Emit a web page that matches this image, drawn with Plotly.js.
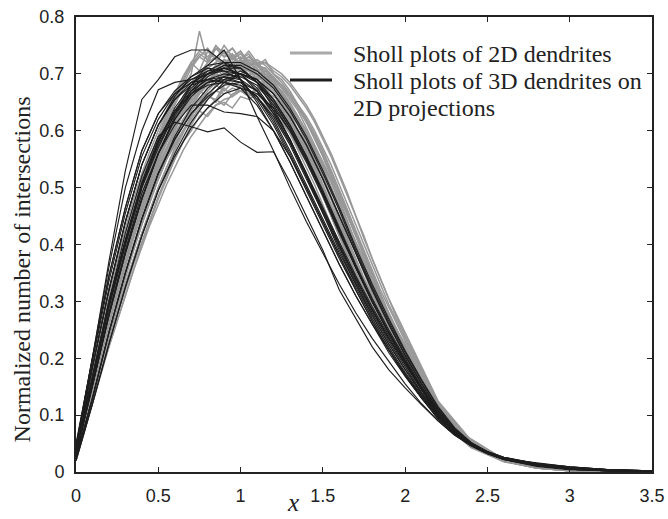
<!DOCTYPE html>
<html><head><meta charset="utf-8">
<script src="https://cdn.plot.ly/plotly-3.0.1.min.js"></script>
<style>html,body{margin:0;padding:0;background:#fff}#chart{width:668px;height:519px}</style>
</head><body><div id="chart"></div>
<script>
// x grids
const grayX = [0,0.05,0.1,0.15,0.2,0.25,0.3,0.35,0.4,0.45,0.5,0.55,0.6,0.65,0.7,0.75,0.8,0.85,0.9,0.95,1.0,1.05,1.1,1.15,1.2,1.25,1.3,1.35,1.4,1.45,1.5,1.55,1.6,1.65,1.7,1.75,1.8,1.85,1.9,1.95,2.0,2.2,2.4,2.6,2.8,3.0,3.25,3.5];
const blackX = [0,0.1,0.2,0.3,0.4,0.5,0.6,0.7,0.8,0.9,1.0,1.1,1.2,1.3,1.4,1.5,1.6,1.7,1.8,1.9,2.0,2.1,2.2,2.3,2.4,2.5,2.6,2.8,3.0,3.25,3.5];
const xTickVals = [0,0.5,1,1.5,2,2.5,3,3.5];
const xTickText = ['0','0.5','1','1.5','2','2.5','3','3.5'];
const yTickVals = [0,0.1,0.2,0.3,0.4,0.5,0.6,0.7,0.8];
const yTickText = ['0','0.1','0.2','0.3','0.4','0.5','0.6','0.7','0.8'];
const legendNames = ['Sholl plots of 2D dendrites', 'Sholl plots of 3D dendrites on', '2D projections'];

// Sholl plots of 2D dendrites (gray)
const gray1 = [.03,.10,.165,.23,.29,.345,.40,.45,.50,.54,.58,.615,.645,.675,.70,.775,.72,.73,.715,.735,.71,.705,.70,.68,.665,.64,.615,.59,.56,.53,.495,.46,.425,.39,.355,.325,.295,.27,.245,.22,.195,.10,.048,.02,.008,.003,.001,.0005];
const gray2 = [.025,.085,.15,.21,.27,.325,.375,.425,.47,.515,.555,.59,.625,.66,.685,.70,.72,.745,.73,.745,.725,.74,.72,.70,.69,.665,.64,.61,.58,.55,.515,.48,.44,.405,.37,.335,.305,.275,.25,.225,.20,.105,.05,.021,.008,.003,.001,.0005];
const gray3 = [.03,.08,.135,.19,.245,.295,.345,.395,.44,.485,.525,.555,.59,.615,.645,.665,.68,.70,.695,.71,.72,.705,.715,.70,.685,.67,.65,.625,.60,.57,.535,.50,.46,.42,.385,.35,.315,.285,.255,.23,.205,.11,.05,.02,.007,.002,.001,.0005];
const gray4 = [.035,.095,.16,.225,.285,.34,.39,.44,.485,.525,.56,.59,.615,.64,.635,.655,.665,.65,.675,.66,.68,.665,.67,.65,.64,.625,.60,.58,.55,.52,.49,.455,.42,.385,.35,.32,.29,.265,.24,.215,.19,.098,.046,.02,.008,.003,.001,.0005];
const gray5 = [.03,.095,.16,.225,.28,.335,.385,.435,.48,.52,.56,.585,.62,.64,.665,.69,.68,.705,.725,.70,.72,.695,.685,.675,.655,.64,.61,.59,.56,.525,.49,.455,.42,.385,.35,.32,.29,.265,.24,.215,.19,.10,.045,.019,.007,.003,.001,.0005];
const gray6 = [.04,.11,.18,.245,.31,.37,.42,.47,.515,.555,.59,.625,.655,.685,.72,.705,.74,.725,.715,.73,.705,.70,.685,.665,.645,.62,.595,.565,.535,.505,.47,.435,.40,.365,.335,.305,.28,.255,.23,.205,.185,.095,.044,.019,.007,.003,.001,.0005];
const gray7 = [.025,.075,.13,.185,.24,.29,.34,.39,.435,.475,.515,.55,.58,.61,.635,.655,.675,.69,.70,.705,.72,.73,.715,.725,.70,.69,.67,.645,.62,.59,.555,.52,.48,.44,.40,.365,.33,.295,.265,.235,.21,.11,.052,.022,.008,.003,.001,.0005];
const gray8 = [.03,.09,.155,.22,.275,.33,.385,.435,.475,.52,.555,.59,.62,.645,.665,.69,.70,.715,.70,.72,.705,.715,.695,.685,.665,.645,.62,.595,.565,.535,.50,.465,.43,.395,.36,.33,.30,.27,.245,.22,.195,.10,.047,.02,.008,.003,.001,.0005];
const gray9 = [.03,.085,.14,.195,.25,.30,.35,.395,.44,.48,.52,.55,.575,.60,.62,.64,.66,.655,.68,.69,.70,.695,.71,.69,.68,.665,.645,.62,.595,.565,.535,.50,.465,.43,.395,.36,.325,.295,.265,.24,.21,.105,.048,.02,.007,.003,.001,.0005];
const gray10 = [.035,.10,.17,.235,.295,.35,.405,.455,.50,.545,.585,.62,.65,.68,.71,.73,.72,.745,.74,.725,.74,.72,.71,.69,.67,.65,.625,.60,.57,.54,.505,.47,.435,.40,.365,.335,.305,.275,.25,.225,.20,.10,.046,.019,.007,.002,.001,.0005];
const gray11 = [.025,.09,.15,.215,.27,.325,.375,.425,.47,.51,.55,.58,.615,.645,.67,.675,.695,.71,.695,.715,.71,.70,.70,.68,.665,.64,.62,.59,.565,.53,.50,.46,.425,.39,.355,.325,.295,.265,.24,.215,.19,.10,.046,.02,.008,.003,.001,.0005];
const gray12 = [.03,.09,.15,.21,.265,.32,.37,.42,.465,.51,.545,.58,.61,.64,.665,.685,.70,.71,.725,.715,.725,.715,.72,.705,.695,.675,.655,.635,.605,.575,.545,.51,.475,.44,.40,.365,.33,.30,.27,.24,.215,.11,.05,.021,.008,.003,.001,.0005];
const gray13 = [.03,.095,.16,.225,.285,.34,.395,.445,.49,.53,.57,.60,.63,.655,.68,.695,.71,.72,.71,.705,.715,.695,.69,.67,.655,.63,.605,.58,.55,.52,.485,.45,.415,.38,.345,.315,.285,.26,.235,.21,.19,.098,.046,.02,.008,.003,.001,.0005];
const gray14 = [.035,.10,.165,.23,.29,.345,.395,.445,.49,.53,.565,.60,.63,.66,.68,.70,.695,.715,.705,.73,.715,.705,.69,.675,.655,.635,.61,.585,.555,.525,.49,.455,.42,.385,.35,.32,.29,.265,.24,.215,.19,.10,.058,.022,.008,.003,.001,.0005];
const gray15 = [.03,.09,.15,.21,.265,.32,.37,.415,.455,.495,.53,.565,.595,.62,.64,.655,.66,.67,.665,.675,.67,.665,.655,.645,.63,.615,.595,.57,.545,.515,.485,.45,.415,.38,.35,.32,.29,.26,.235,.21,.19,.10,.046,.02,.008,.003,.001,.0005];
const gray16 = [.025,.085,.145,.205,.26,.315,.365,.415,.46,.505,.545,.58,.61,.64,.665,.68,.69,.70,.715,.705,.725,.71,.70,.69,.675,.655,.635,.61,.58,.55,.52,.485,.45,.41,.375,.34,.31,.28,.25,.225,.20,.105,.049,.02,.008,.003,.001,.0005];
const gray17 = [.03,.09,.15,.21,.265,.32,.37,.42,.465,.505,.545,.58,.615,.645,.67,.695,.71,.72,.74,.725,.735,.72,.725,.715,.70,.685,.665,.645,.62,.595,.565,.53,.495,.46,.42,.385,.345,.31,.275,.245,.215,.11,.05,.02,.008,.003,.001,.0005];
const gray18 = [.025,.08,.14,.195,.25,.30,.35,.40,.445,.49,.53,.565,.60,.63,.655,.675,.69,.70,.715,.705,.72,.715,.70,.705,.69,.675,.66,.64,.615,.59,.56,.525,.49,.455,.42,.385,.35,.315,.28,.25,.22,.115,.052,.021,.008,.003,.001,.0005];
const gray19 = [.02,.07,.12,.17,.22,.265,.31,.355,.40,.44,.48,.515,.55,.58,.61,.635,.655,.67,.685,.695,.70,.71,.70,.705,.69,.68,.665,.645,.625,.60,.57,.54,.505,.47,.435,.40,.365,.33,.295,.265,.235,.12,.055,.022,.008,.003,.001,.0005];
const gray20 = [.025,.075,.125,.175,.225,.275,.32,.365,.405,.445,.485,.52,.55,.58,.60,.625,.64,.655,.645,.665,.67,.66,.675,.665,.655,.645,.63,.61,.59,.565,.54,.51,.475,.44,.405,.375,.34,.305,.275,.245,.22,.11,.05,.02,.008,.003,.001,.0005];
const gray21 = [.035,.105,.175,.24,.30,.355,.41,.46,.505,.55,.59,.63,.665,.69,.715,.73,.745,.725,.75,.73,.74,.715,.72,.695,.68,.655,.63,.60,.57,.54,.505,.47,.435,.40,.365,.33,.30,.27,.245,.22,.195,.10,.046,.019,.007,.002,.001,.0005];
const gray22 = [.03,.09,.155,.215,.275,.33,.38,.43,.475,.515,.555,.585,.62,.635,.66,.675,.69,.68,.70,.71,.695,.715,.70,.70,.68,.67,.645,.625,.595,.565,.535,.50,.465,.43,.395,.36,.325,.295,.265,.24,.21,.105,.048,.02,.008,.003,.001,.0005];
const gray23 = [.03,.085,.145,.205,.26,.31,.36,.41,.455,.495,.535,.57,.605,.635,.66,.68,.70,.71,.725,.72,.73,.72,.715,.71,.695,.68,.66,.64,.615,.585,.555,.52,.485,.45,.415,.38,.345,.31,.28,.25,.22,.112,.05,.02,.008,.003,.001,.0005];
const gray24 = [.035,.10,.165,.23,.29,.345,.395,.44,.485,.525,.56,.59,.615,.64,.65,.67,.66,.68,.67,.685,.675,.665,.66,.64,.625,.60,.58,.555,.525,.495,.465,.43,.395,.36,.33,.30,.27,.245,.22,.195,.175,.092,.043,.018,.007,.002,.001,.0005];
const gray25 = [.02,.075,.13,.185,.235,.285,.33,.375,.42,.46,.50,.535,.57,.60,.625,.645,.66,.68,.69,.70,.71,.72,.705,.71,.69,.68,.66,.64,.615,.59,.56,.53,.495,.46,.425,.39,.355,.32,.29,.26,.23,.118,.054,.022,.008,.003,.001,.0005];
const gray26 = [.03,.085,.14,.195,.25,.30,.35,.395,.44,.48,.515,.55,.575,.60,.615,.635,.625,.645,.65,.64,.66,.655,.665,.65,.645,.635,.62,.60,.58,.555,.53,.50,.47,.435,.40,.37,.335,.305,.275,.245,.22,.112,.05,.02,.008,.003,.001,.0005];
const gray27 = [.035,.10,.165,.23,.29,.35,.405,.455,.505,.55,.59,.625,.66,.69,.715,.735,.725,.75,.735,.745,.725,.735,.715,.70,.685,.66,.635,.61,.58,.55,.515,.48,.445,.41,.375,.34,.31,.28,.25,.225,.20,.10,.046,.019,.007,.002,.001,.0005];
const gray28 = [.025,.08,.135,.19,.245,.295,.345,.39,.435,.475,.515,.55,.585,.615,.64,.665,.685,.70,.71,.72,.715,.73,.72,.72,.71,.70,.685,.665,.645,.62,.59,.56,.525,.49,.45,.415,.375,.34,.305,.27,.24,.122,.055,.022,.008,.003,.001,.0005];
const gray29 = [.03,.09,.15,.21,.265,.32,.37,.415,.46,.50,.54,.57,.60,.63,.65,.67,.685,.70,.685,.705,.695,.71,.69,.695,.675,.66,.64,.615,.59,.56,.53,.495,.46,.425,.39,.355,.325,.295,.265,.24,.21,.105,.048,.02,.008,.003,.001,.0005];
const gray30 = [.025,.075,.125,.175,.22,.265,.31,.355,.395,.435,.47,.505,.535,.565,.59,.61,.63,.645,.655,.66,.67,.665,.675,.67,.66,.65,.635,.615,.595,.57,.545,.515,.485,.45,.415,.38,.345,.31,.28,.25,.225,.115,.052,.021,.008,.003,.001,.0005];
const gray31 = [.04,.11,.18,.25,.315,.375,.43,.48,.525,.565,.60,.635,.665,.695,.72,.74,.73,.745,.73,.735,.715,.71,.69,.675,.655,.63,.605,.58,.55,.52,.485,.45,.415,.38,.345,.315,.285,.26,.235,.21,.19,.097,.045,.019,.007,.002,.001,.0005];
const gray32 = [.02,.07,.125,.18,.23,.28,.33,.375,.42,.46,.50,.535,.565,.595,.625,.65,.67,.685,.70,.705,.715,.725,.715,.72,.705,.695,.68,.66,.64,.615,.585,.555,.52,.485,.45,.41,.375,.34,.305,.275,.245,.125,.056,.022,.008,.003,.001,.0005];

// Sholl plots of 3D dendrites on 2D projections (black)
const black1 = [.05,.20,.37,.53,.655,.69,.73,.742,.742,.72,.69,.65,.60,.545,.485,.425,.365,.31,.26,.215,.172,.133,.098,.069,.048,.034,.024,.012,.006,.003,.001];
const black2 = [.045,.20,.36,.50,.60,.672,.685,.69,.70,.705,.70,.685,.655,.61,.555,.49,.425,.36,.30,.245,.195,.145,.10,.07,.048,.033,.023,.012,.006,.003,.001];
const black3 = [.03,.16,.29,.40,.50,.57,.63,.68,.715,.742,.69,.625,.565,.50,.44,.385,.33,.28,.235,.195,.155,.12,.09,.065,.047,.033,.023,.012,.006,.003,.001];
const black4 = [.04,.17,.30,.42,.52,.59,.615,.607,.598,.605,.58,.562,.563,.51,.45,.39,.32,.27,.22,.18,.148,.118,.09,.065,.046,.032,.022,.011,.006,.003,.001];
const black5 = [.03,.15,.28,.39,.49,.56,.61,.645,.645,.633,.63,.625,.60,.555,.50,.44,.38,.32,.265,.215,.17,.13,.093,.066,.046,.032,.022,.011,.005,.002,.001];
const black6 = [.045,.20,.345,.465,.565,.63,.67,.695,.71,.705,.69,.655,.61,.555,.495,.435,.375,.32,.265,.215,.17,.13,.095,.067,.047,.033,.023,.012,.006,.003,.001];
const black7 = [.025,.13,.245,.35,.445,.525,.585,.63,.665,.69,.70,.69,.665,.625,.575,.515,.45,.385,.32,.26,.205,.155,.11,.075,.05,.033,.022,.011,.005,.002,.001];
const black8 = [.03,.165,.295,.405,.505,.58,.635,.67,.69,.70,.695,.68,.645,.60,.545,.485,.42,.36,.30,.245,.195,.148,.105,.073,.05,.034,.023,.016,.009,.004,.002];
const black9 = [.04,.185,.32,.44,.54,.61,.655,.685,.70,.71,.70,.67,.63,.58,.52,.46,.40,.34,.285,.235,.19,.145,.103,.072,.05,.035,.025,.014,.008,.004,.002];
const black10 = [.02,.12,.225,.325,.415,.495,.56,.615,.655,.685,.70,.69,.665,.625,.575,.515,.45,.385,.32,.26,.205,.155,.11,.075,.05,.033,.022,.01,.004,.002,.001];
const black11 = [.03,.15,.275,.385,.48,.56,.62,.66,.685,.695,.69,.67,.63,.58,.52,.46,.40,.34,.285,.235,.19,.145,.103,.072,.05,.035,.025,.013,.007,.003,.001];
const black12 = [.045,.20,.345,.465,.565,.63,.665,.685,.69,.685,.675,.645,.60,.545,.485,.425,.365,.31,.26,.21,.168,.13,.096,.068,.048,.034,.024,.013,.007,.003,.001];
const black13 = [.03,.165,.295,.405,.505,.58,.635,.675,.70,.715,.71,.685,.65,.605,.55,.49,.425,.36,.30,.245,.195,.148,.105,.073,.05,.034,.023,.011,.005,.002,.001];
const black14 = [.025,.13,.245,.35,.445,.525,.59,.64,.675,.695,.705,.69,.655,.61,.555,.495,.43,.365,.305,.25,.20,.15,.107,.074,.05,.034,.023,.011,.005,.002,.001];
const black15 = [.04,.185,.32,.44,.54,.61,.655,.68,.69,.695,.685,.66,.615,.56,.50,.44,.38,.325,.27,.22,.175,.135,.098,.07,.049,.035,.025,.015,.009,.004,.002];
const black16 = [.03,.15,.275,.385,.48,.56,.625,.67,.70,.715,.715,.70,.675,.635,.585,.525,.46,.39,.325,.265,.21,.16,.113,.077,.052,.035,.024,.012,.006,.003,.001];
const black17 = [.035,.17,.30,.41,.51,.585,.635,.665,.68,.685,.68,.66,.625,.575,.515,.455,.395,.335,.28,.23,.185,.14,.10,.07,.049,.034,.024,.012,.006,.003,.001];
const black18 = [.02,.12,.225,.325,.415,.495,.555,.605,.64,.665,.675,.665,.64,.60,.55,.49,.425,.36,.30,.245,.195,.148,.105,.073,.05,.034,.023,.011,.005,.002,.001];
const black19 = [.04,.195,.335,.455,.555,.62,.665,.69,.705,.71,.70,.675,.635,.585,.525,.46,.40,.34,.285,.235,.19,.145,.103,.072,.05,.035,.025,.013,.007,.003,.001];
const black20 = [.03,.15,.275,.385,.48,.56,.62,.665,.695,.71,.71,.685,.64,.585,.52,.455,.39,.33,.275,.225,.18,.138,.10,.071,.05,.035,.025,.014,.008,.004,.002];
const black21 = [.03,.165,.295,.405,.505,.58,.64,.68,.705,.72,.72,.705,.68,.64,.59,.53,.465,.395,.33,.27,.213,.162,.115,.078,.052,.035,.024,.012,.006,.003,.001];
const black22 = [.025,.13,.245,.35,.445,.525,.585,.63,.66,.68,.685,.67,.635,.585,.525,.465,.405,.345,.29,.24,.193,.148,.105,.073,.051,.036,.026,.015,.008,.004,.002];
const black23 = [.04,.185,.32,.44,.54,.61,.66,.695,.715,.72,.71,.685,.65,.605,.55,.49,.425,.36,.30,.245,.195,.148,.105,.073,.05,.034,.023,.011,.005,.002,.001];
const black24 = [.03,.16,.29,.40,.50,.575,.63,.665,.685,.69,.685,.66,.62,.565,.505,.445,.385,.33,.275,.225,.18,.138,.10,.072,.051,.036,.026,.015,.009,.004,.002];

const grayCurves = [gray1,gray2,gray3,gray4,gray5,gray6,gray7,gray8,gray9,gray10,gray11,gray12,gray13,gray14,gray15,gray16,gray17,gray18,gray19,gray20,gray21,gray22,gray23,gray24,gray25,gray26,gray27,gray28,gray29,gray30,gray31,gray32];
const blackCurves = [black1,black2,black3,black4,black5,black6,black7,black8,black9,black10,black11,black12,black13,black14,black15,black16,black17,black18,black19,black20,black21,black22,black23,black24];

const GRAY = '#989898', BLACK = '#1e1e1e';
const traces = [];
grayCurves.forEach((y, i) => traces.push({x: grayX, y: y, type: 'scatter', mode: 'lines', name: legendNames[0], legendgroup: 'g2d', line: {color: GRAY, width: 1.5}, showlegend: false, hoverinfo: 'skip'}));
blackCurves.forEach((y, i) => traces.push({x: blackX, y: y, type: 'scatter', mode: 'lines', name: legendNames[1] + ' ' + legendNames[2], legendgroup: 'g3d', line: {color: BLACK, width: 1.15}, showlegend: false, hoverinfo: 'skip'}));

// legend (drawn in paper coordinates, matching the reference's tight line spacing)
const PLOT_L = 76, PLOT_W = 576, PLOT_T = 17, PLOT_H = 455;
const px2x = p => (p - PLOT_L) / PLOT_W;
const px2y = p => (PLOT_T + PLOT_H - p) / PLOT_H;
const legendFont = {family: 'Liberation Serif, Times New Roman, serif', size: 24, color: '#222'};
const shapes = [
  {type: 'line', xref: 'paper', yref: 'paper', x0: px2x(290), x1: px2x(332), y0: px2y(53), y1: px2y(53), line: {color: '#a9a9a9', width: 2.8}},
  {type: 'line', xref: 'paper', yref: 'paper', x0: px2x(290), x1: px2x(332), y0: px2y(80), y1: px2y(80), line: {color: BLACK, width: 2.8}}
];
const legendAnn = [53, 80, 107].map((py, i) => ({
  text: legendNames[i], xref: 'paper', yref: 'paper', x: px2x(351), y: px2y(py + 1),
  xanchor: 'left', yanchor: 'middle', showarrow: false, font: legendFont
}));

const axisCommon = {
  ticks: 'inside', ticklen: 5, tickwidth: 1.2, tickcolor: '#222',
  showline: true, linecolor: '#222', linewidth: 2, mirror: 'ticks',
  showgrid: false, zeroline: false,
  tickfont: {family: 'Liberation Sans, Arial, sans-serif', size: 18, color: '#222'},
  ticklabelstandoff: 6
};
const layout = {
  width: 668, height: 519,
  margin: {l: 76, r: 16, t: 17, b: 47, autoexpand: false},
  paper_bgcolor: '#fff', plot_bgcolor: '#fff',
  showlegend: false,
  xaxis: Object.assign({}, axisCommon, {range: [0, 3.5], tickmode: 'array', tickvals: xTickVals, ticktext: xTickText}),
  yaxis: Object.assign({}, axisCommon, {range: [0, 0.8], tickmode: 'array', tickvals: yTickVals, ticktext: yTickText}),
  shapes: shapes,
  annotations: [
    {text: 'Normalized number of intersections', xref: 'paper', yref: 'y', x: -0.094, y: 0.356,
     textangle: -90, showarrow: false, xanchor: 'center', yanchor: 'middle',
     font: {family: 'Liberation Serif, Times New Roman, serif', size: 24, color: '#222'}},
    {text: '<i>x</i>', xref: 'x', yref: 'paper', x: 1.317, y: -0.102, showarrow: false,
     xanchor: 'center', yanchor: 'bottom',
     font: {family: 'Liberation Serif, Times New Roman, serif', size: 25, color: '#222'}}
  ].concat(legendAnn)
};
Plotly.newPlot('chart', traces, layout, {staticPlot: true, displayModeBar: false});
</script></body></html>
